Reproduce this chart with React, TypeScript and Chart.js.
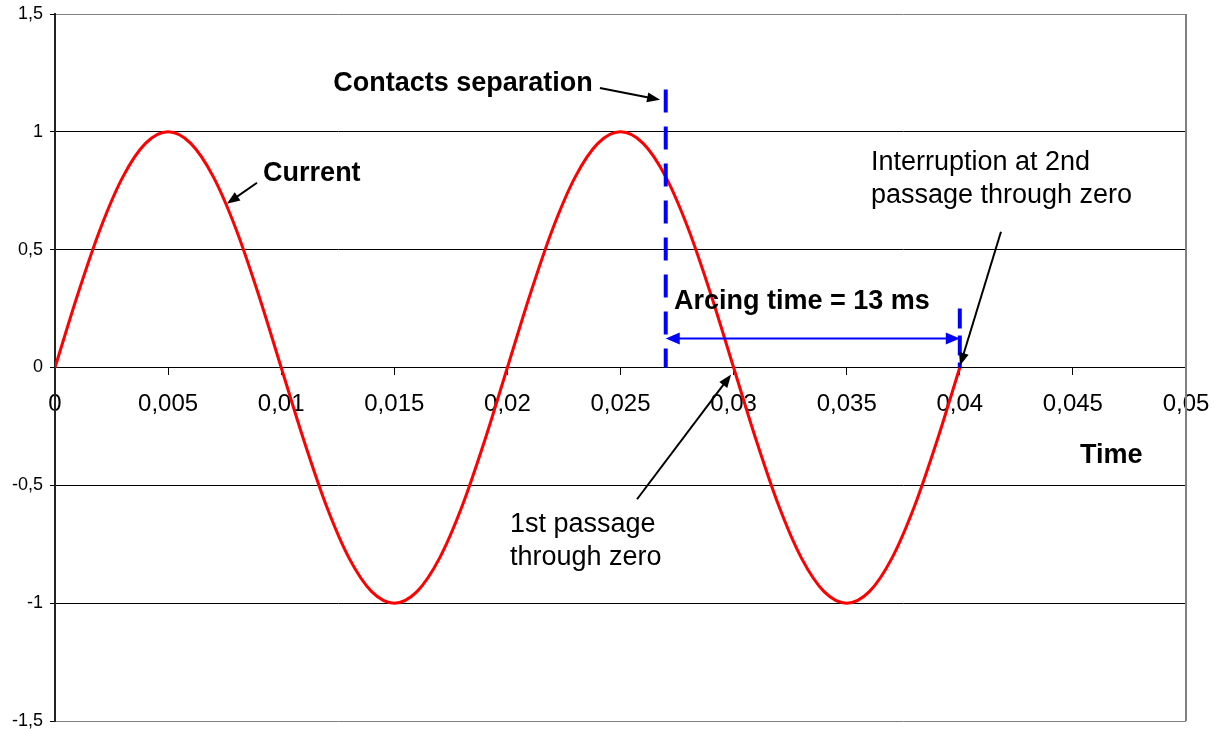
import React, { useEffect, useRef } from "react";
import { Chart, registerables } from "chart.js";

Chart.register(...registerables);

// ---- Data ----
const timeValues = [
  0, 0.001, 0.002, 0.003, 0.004, 0.005, 0.006, 0.007, 0.008, 0.009, 0.01,
  0.011, 0.012, 0.013, 0.014, 0.015, 0.016, 0.017, 0.018, 0.019, 0.02,
  0.021, 0.022, 0.023, 0.024, 0.025, 0.026, 0.027, 0.028, 0.029, 0.03,
  0.031, 0.032, 0.033, 0.034, 0.035, 0.036, 0.037, 0.038, 0.039, 0.04,
];
const currentValues = [
  0, 0.309, 0.588, 0.809, 0.951, 1, 0.951, 0.809, 0.588, 0.309, 0,
  -0.309, -0.588, -0.809, -0.951, -1, -0.951, -0.809, -0.588, -0.309, 0,
  0.309, 0.588, 0.809, 0.951, 1, 0.951, 0.809, 0.588, 0.309, 0,
  -0.309, -0.588, -0.809, -0.951, -1, -0.951, -0.809, -0.588, -0.309, 0,
];

const xMin = 0;
const xMax = 0.05;
const xStep = 0.005;
const yMin = -1.5;
const yMax = 1.5;
const yStep = 0.5;

// Annotation values (data units)
const contactsSeparationTime = 0.027;
const interruptionTime = 0.04;
const separationLineTop = 1.18;
const interruptionLineTop = 0.25;
const arcingArrowLevel = 0.123;

const labelTexts = [
  ["Contacts separation"],
  ["Current"],
  ["Arcing time = 13 ms"],
  ["Interruption at 2nd", "passage through zero"],
  ["1st passage", "through zero"],
  ["Time"],
];
const labelX = [0.0123, 0.0092, 0.02736, 0.03607, 0.02011, 0.04531];
const labelY = [1.203, 0.822, 0.28, 0.869, -0.665, -0.373];
const labelBold = [true, true, true, false, false, true];

const arrowFromX = [0.02409, 0.00893, 0.04182, 0.02573];
const arrowFromY = [1.186, 0.784, 0.576, -0.559];
const arrowToX = [0.02675, 0.0076, 0.04001, 0.02989];
const arrowToY = [1.136, 0.695, 0.008, -0.03];

const FONT = '"Liberation Sans", Arial, Helvetica, sans-serif';

const fmt = (v: number) => {
  const r = parseFloat(Number(v).toFixed(4));
  return String(r).replace(".", ",");
};

function drawArrowHead(
  ctx: CanvasRenderingContext2D,
  x1: number,
  y1: number,
  x2: number,
  y2: number,
  len: number,
  half: number,
  color: string
) {
  const ang = Math.atan2(y2 - y1, x2 - x1);
  ctx.save();
  ctx.fillStyle = color;
  ctx.beginPath();
  ctx.moveTo(x2, y2);
  ctx.lineTo(
    x2 - len * Math.cos(ang) + half * Math.sin(ang),
    y2 - len * Math.sin(ang) - half * Math.cos(ang)
  );
  ctx.lineTo(
    x2 - len * Math.cos(ang) - half * Math.sin(ang),
    y2 - len * Math.sin(ang) + half * Math.cos(ang)
  );
  ctx.closePath();
  ctx.fill();
  ctx.restore();
}

const annotationPlugin = {
  id: "annotations",
  afterDatasetsDraw(chart: any) {
    const { ctx, chartArea, scales } = chart;
    const xs = scales.x;
    const ys = scales.y;
    const px = (v: number) => xs.getPixelForValue(v);
    const py = (v: number) => ys.getPixelForValue(v);

    ctx.save();
    // right frame line
    ctx.strokeStyle = "#808080";
    ctx.lineWidth = 2;
    ctx.beginPath();
    ctx.moveTo(chartArea.right, chartArea.top);
    ctx.lineTo(chartArea.right, chartArea.bottom);
    ctx.stroke();

    // blue dashed verticals
    ctx.strokeStyle = "#0000FF";
    ctx.lineWidth = 4;
    ctx.setLineDash([23, 14]);
    ctx.beginPath();
    ctx.moveTo(px(contactsSeparationTime), py(separationLineTop));
    ctx.lineTo(px(contactsSeparationTime), py(0));
    ctx.stroke();
    ctx.setLineDash([20, 7]);
    ctx.beginPath();
    ctx.moveTo(px(interruptionTime), py(interruptionLineTop));
    ctx.lineTo(px(interruptionTime), py(0));
    ctx.stroke();
    ctx.setLineDash([]);

    // blue double arrow
    const ax1 = px(contactsSeparationTime);
    const ax2 = px(interruptionTime);
    const ay = py(arcingArrowLevel);
    ctx.lineWidth = 2;
    ctx.beginPath();
    ctx.moveTo(ax1 + 4, ay);
    ctx.lineTo(ax2 - 4, ay);
    ctx.stroke();
    drawArrowHead(ctx, ax2, ay, ax1, ay, 14, 6, "#0000FF");
    drawArrowHead(ctx, ax1, ay, ax2, ay, 14, 6, "#0000FF");

    // black arrows
    ctx.strokeStyle = "#000";
    ctx.lineWidth = 2;
    for (let i = 0; i < arrowFromX.length; i++) {
      const x1 = px(arrowFromX[i]);
      const y1 = py(arrowFromY[i]);
      const x2 = px(arrowToX[i]);
      const y2 = py(arrowToY[i]);
      const ang = Math.atan2(y2 - y1, x2 - x1);
      ctx.beginPath();
      ctx.moveTo(x1, y1);
      ctx.lineTo(x2 - 8 * Math.cos(ang), y2 - 8 * Math.sin(ang));
      ctx.stroke();
      drawArrowHead(ctx, x1, y1, x2, y2, 13, 5, "#000");
    }

    // texts
    ctx.fillStyle = "#000";
    ctx.textAlign = "left";
    ctx.textBaseline = "middle";
    for (let i = 0; i < labelTexts.length; i++) {
      ctx.font = `${labelBold[i] ? "bold " : ""}27px ${FONT}`;
      const x = px(labelX[i]);
      const y = py(labelY[i]);
      labelTexts[i].forEach((line, j) => {
        ctx.fillText(line, x, y + j * 33);
      });
    }
    ctx.restore();
  },
};

export default function App() {
  const canvasRef = useRef<HTMLCanvasElement | null>(null);

  useEffect(() => {
    if (!canvasRef.current) return;
    const points = timeValues.map((t, i) => ({ x: t, y: currentValues[i] }));
    const chart = new Chart(canvasRef.current, {
      type: "line",
      data: {
        datasets: [
          {
            label: "Current",
            data: points,
            borderColor: "#FF0000",
            borderWidth: 3,
            pointRadius: 0,
            cubicInterpolationMode: "monotone",
            fill: false,
          },
        ],
      },
      options: {
        animation: false,
        responsive: false,
        maintainAspectRatio: false,
        layout: { padding: { left: 0, right: 29, top: 14, bottom: 8 } },
        plugins: {
          legend: { display: false },
          tooltip: { enabled: false },
        },
        scales: {
          x: {
            type: "linear",
            min: xMin,
            max: xMax,
            position: { y: 0 },
            grid: {
              drawOnChartArea: false,
              tickLength: 7,
              tickColor: "#000",
              color: "#000",
            },
            border: { display: true, color: "#000", width: 1 },
            ticks: {
              stepSize: xStep,
              color: "#000",
              padding: 15,
              maxRotation: 0,
              autoSkip: false,
              font: { family: FONT, size: 24 },
              callback: (v: any) => fmt(v),
            },
            afterFit: (s: any) => {
              s.paddingLeft = 0;
              s.paddingRight = 0;
            },
          },
          y: {
            type: "linear",
            min: yMin,
            max: yMax,
            position: "left",
            grid: {
              color: (c: any) =>
                Math.abs(Math.abs(c.tick.value) - 1.5) < 1e-9 ? "#808080" : "#000",
              lineWidth: 1,
              tickLength: 5,
              tickColor: "#000",
            },
            border: { display: true, color: "#222", width: 2 },
            ticks: {
              stepSize: yStep,
              color: "#000",
              padding: 7,
              font: { family: FONT, size: 18 },
              callback: (v: any) => fmt(v),
            },
            afterFit: (s: any) => {
              s.width = 55;
              s.paddingTop = 0;
              s.paddingBottom = 0;
            },
          },
        },
      },
      plugins: [annotationPlugin],
    });
    return () => chart.destroy();
  }, []);

  return (
    <div style={{ position: "fixed", left: 0, top: 0, width: 1215, height: 729, background: "#fff" }}>
      <canvas ref={canvasRef} width={1215} height={729} style={{ width: 1215, height: 729 }} />
    </div>
  );
}
